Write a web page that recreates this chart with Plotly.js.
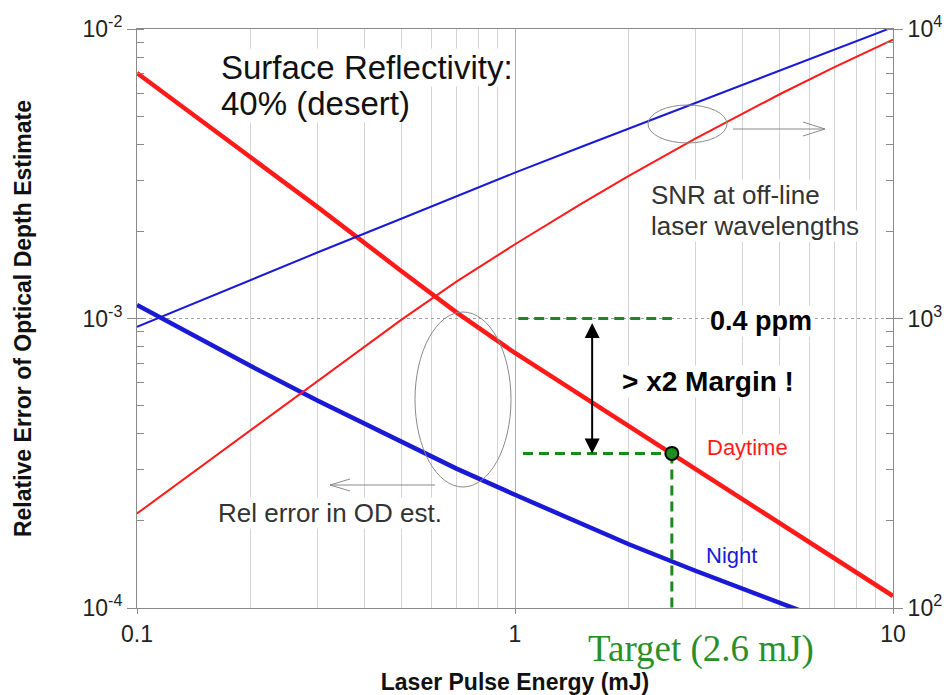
<!DOCTYPE html>
<html>
<head>
<meta charset="utf-8">
<script src="https://cdn.plot.ly/plotly-3.0.1.min.js"></script>
<style>html,body{margin:0;padding:0;background:#fff;}#chart{width:951px;height:695px;}</style>
</head>
<body>
<div id="chart"></div>
<script>
// ---- data ----
const energy        = [0.1, 0.2, 0.3, 0.5, 0.7, 1, 1.5, 2, 3, 5, 7, 10];          // mJ
const daySNR        = [212, 412, 607, 989, 1340, 1805, 2495, 3110, 4183, 5940, 7380, 9180];
const nightSNR      = [935, 1360, 1690, 2210, 2640, 3190, 3920, 4530, 5550, 7160, 8470, 10150];
const dayRelErr     = [7.05e-3, 3.6e-3, 2.43e-3, 1.46e-3, 1.05e-3, 7.6e-4, 5.41e-4, 4.25e-4, 3.02e-4, 1.97e-4, 1.48e-4, 1.10e-4];
const nightRelErr   = [1.114e-3, 6.85e-4, 5.21e-4, 3.74e-4, 3.03e-4, 2.46e-4, 1.95e-4, 1.66e-4, 1.345e-4, 1.045e-4, 8.83e-5, 7.4e-5];

const targetEnergy  = 2.6;       // mJ
const targetRelErr  = 3.42e-4;
const requirement   = 1e-3;      // 0.4 ppm
const reqLineStart  = 1.02;      // mJ
const targetLineStart = 1.05;    // mJ
const marginArrowE  = 1.6;       // mJ
const axisFloor     = 1e-4;

const xTickVals = [0.1, 1, 10];
const xTickText = ['0.1', '1', '10'];
const yTickVals = [1e-4, 1e-3, 1e-2];
const yTickText = ['10<sup>-4</sup>', '10<sup>-3</sup>', '10<sup>-2</sup>'];
const y2TickVals = [1e2, 1e3, 1e4];
const y2TickText = ['10<sup>2</sup>', '10<sup>3</sup>', '10<sup>4</sup>'];

// ---- layout geometry ----
const W = 951, H = 695;
const M = {l: 137, r: 58, t: 29, b: 87};
const PW = W - M.l - M.r, PH = H - M.t - M.b;
const px = v => (v - M.l) / PW;           // pixel -> paper x
const py = v => (H - M.b - v) / PH;       // pixel -> paper y

const RED = '#ff1a1a', BLUE = '#1a1ad6', GREEN = '#1a8a1a';
const FONT = 'Arial, "Liberation Sans", sans-serif';

const traces = [
  {x: energy, y: dayRelErr, yaxis: 'y', mode: 'lines', line: {color: RED, width: 4.5}},
  {x: energy, y: nightRelErr, yaxis: 'y', mode: 'lines', line: {color: BLUE, width: 4.5}},
  {x: [reqLineStart, targetEnergy], y: [requirement, requirement], yaxis: 'y', mode: 'lines',
   line: {color: GREEN, width: 3, dash: '10px,6px'}},
  {x: [targetLineStart, targetEnergy], y: [targetRelErr, targetRelErr], yaxis: 'y', mode: 'lines',
   line: {color: GREEN, width: 3, dash: '10px,6px'}},
  {x: [targetEnergy, targetEnergy], y: [targetRelErr, axisFloor], yaxis: 'y', mode: 'lines',
   line: {color: GREEN, width: 3, dash: '10px,6px'}},
  {x: [targetEnergy], y: [targetRelErr], yaxis: 'y', mode: 'markers',
   marker: {color: '#1e8f1e', size: 13, line: {color: '#000', width: 2}}},
  {x: energy, y: daySNR, yaxis: 'y2', mode: 'lines', line: {color: RED, width: 2}},
  {x: energy, y: nightSNR, yaxis: 'y2', mode: 'lines', line: {color: BLUE, width: 2}}
];

function label(text, x, y, size, color, anchor, opts) {
  return Object.assign({
    xref: 'paper', yref: 'paper', x: px(x), y: py(y), xanchor: anchor, yanchor: 'middle',
    text: text, showarrow: false, bgcolor: '#fff', borderpad: 0,
    font: {size: size, color: color, family: FONT}
  }, opts || {});
}

const frame = '#8a8a8a';
const layout = {
  width: W, height: H,
  margin: M,
  paper_bgcolor: '#fff', plot_bgcolor: '#fff',
  showlegend: false, hovermode: false,
  font: {family: FONT, color: '#222'},
  xaxis: {
    type: 'log', range: [-1, 1],
    tickmode: 'array', tickvals: xTickVals, ticktext: xTickText,
    tickfont: {size: 23, color: '#222', family: FONT},
    ticks: 'outside', ticklen: 5, tickcolor: frame,
    showline: true, linecolor: frame, linewidth: 1, mirror: true,
    showgrid: true, gridcolor: '#b0b0b0', gridwidth: 1,
    minor: {dtick: 'D1', showgrid: true, gridcolor: '#d4d4d4', gridwidth: 1, ticks: ''},
    zeroline: false,
    title: {text: 'Laser Pulse Energy (mJ)', font: {size: 23, color: '#111', family: FONT, weight: 'bold'}, standoff: 31}
  },
  yaxis: {
    type: 'log', range: [-4, -2],
    tickmode: 'array', tickvals: yTickVals, ticktext: yTickText,
    tickfont: {size: 23, color: '#222', family: FONT},
    ticks: 'outside', ticklen: 9, tickcolor: frame,
    showline: true, linecolor: frame, linewidth: 1,
    showgrid: true, gridcolor: '#a0a0a0', griddash: 'dot', gridwidth: 1,
    minor: {dtick: 'D1', ticks: 'inside', ticklen: 7, tickcolor: frame, showgrid: false},
    zeroline: false,
    title: {text: 'Relative Error of Optical Depth Estimate', font: {size: 23, color: '#111', family: FONT, weight: 'bold'}, standoff: 44}
  },
  yaxis2: {
    type: 'log', range: [2, 4], overlaying: 'y', side: 'right',
    tickmode: 'array', tickvals: y2TickVals, ticktext: y2TickText,
    tickfont: {size: 23, color: '#222', family: FONT},
    ticks: 'outside', ticklen: 9, tickcolor: frame,
    showline: true, linecolor: frame, linewidth: 1,
    showgrid: false,
    minor: {dtick: 'D1', ticks: 'inside', ticklen: 7, tickcolor: frame, showgrid: false},
    zeroline: false
  },
  shapes: [
    {type: 'circle', xref: 'paper', yref: 'paper', x0: px(648), x1: px(727), y0: py(143), y1: py(105),
     line: {color: '#8a8a8a', width: 1}},
    {type: 'circle', xref: 'paper', yref: 'paper', x0: px(415), x1: px(511), y0: py(487), y1: py(312),
     line: {color: '#8a8a8a', width: 1}},
    {type: 'path', xref: 'paper', yref: 'paper',
     path: `M ${px(733)},${py(129)} L ${px(825)},${py(129)} M ${px(803)},${py(122)} L ${px(825)},${py(129)} L ${px(803)},${py(136)}`,
     line: {color: '#8a8a8a', width: 1}},
    {type: 'path', xref: 'paper', yref: 'paper',
     path: `M ${px(435)},${py(485)} L ${px(330)},${py(485)} M ${px(350)},${py(479)} L ${px(330)},${py(485)} L ${px(350)},${py(491)}`,
     line: {color: '#8a8a8a', width: 1}}
  ],
  annotations: [
    {xref: 'x', yref: 'y', x: Math.log10(marginArrowE), y: Math.log10(targetRelErr),
     axref: 'x', ayref: 'y', ax: Math.log10(marginArrowE), ay: Math.log10(requirement) - 0.01,
     showarrow: true, arrowhead: 2, startarrowhead: 2, arrowside: 'end+start',
     arrowsize: 1.5, startarrowsize: 1.5, arrowwidth: 2, arrowcolor: '#000', text: ''},
    label('Surface Reflectivity:', 220, 67, 33, '#111', 'left'),
    label('40% (desert)', 220, 103, 33, '#111', 'left'),
    label('SNR at off-line', 650, 195, 26, '#333', 'left'),
    label('laser wavelengths', 650, 226, 26, '#333', 'left'),
    label('Rel error in OD est.', 217, 513, 26, '#333', 'left'),
    label('<b>0.4 ppm</b>', 761, 321, 27, '#000', 'center'),
    label('<b>&gt; x2 Margin !</b>', 708, 381, 28, '#000', 'center'),
    label('Daytime', 747, 447, 22, RED, 'center'),
    label('Night', 731, 555, 22, BLUE, 'center'),
    label('Target (2.6 mJ)', 701, 649, 37, '#2a8f2a', 'center',
          {bgcolor: 'rgba(0,0,0,0)', font: {size: 37, color: '#2a8f2a', family: '"Liberation Serif", "Times New Roman", serif'}})
  ]
};

Plotly.newPlot('chart', traces, layout, {displayModeBar: false, staticPlot: true});
</script>
</body>
</html>
